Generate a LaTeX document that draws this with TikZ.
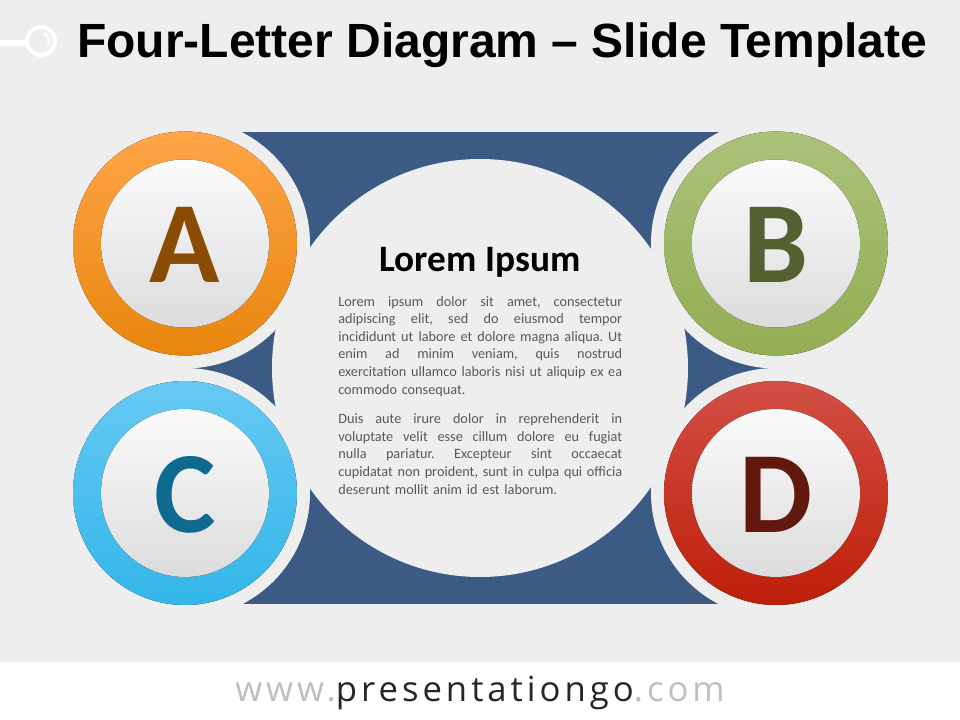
\documentclass[tikz,border=0pt]{standalone}
\usepackage{fontspec}
\setmainfont{Carlito}
\newfontfamily\titlefont{Liberation Sans}
\newfontfamily\webfont[LetterSpace=11.5]{Open Sans}
\definecolor{slidebg}{HTML}{EFEEEF}
\definecolor{navyblock}{HTML}{3B5B84}
\definecolor{textgrey}{HTML}{595959}
\definecolor{discTop}{HTML}{FBFBFB}
\definecolor{discBottom}{HTML}{DCDCDC}
\definecolor{orangeTop}{HTML}{FFA448}
\definecolor{orangeBottom}{HTML}{E8860C}
\definecolor{greenTop}{HTML}{ABC27A}
\definecolor{greenBottom}{HTML}{93AE53}
\definecolor{cyanTop}{HTML}{66C9F3}
\definecolor{cyanBottom}{HTML}{33B6E9}
\definecolor{redTop}{HTML}{D24F45}
\definecolor{redBottom}{HTML}{BE1E08}
\definecolor{letterA}{HTML}{8A4B02}
\definecolor{letterB}{HTML}{556130}
\definecolor{letterC}{HTML}{0E6A8E}
\definecolor{letterD}{HTML}{62180E}
\definecolor{webgrey}{HTML}{BFBFBF}
\definecolor{webdark}{HTML}{262626}
\newcommand{\jline}[1]{\makebox[213pt][s]{\frenchspacing\spaceskip=0.2em plus 1fil\relax #1}\\}

\begin{document}
\begin{tikzpicture}[x=0.75pt,y=0.75pt]
\tikzstyle{every node}+=[inner sep=0pt]
\tikzstyle{letter}=[anchor=base, font=\fontsize{87}{87}\selectfont\bfseries]
\tikzstyle{inner disc}=[top color=discTop, bottom color=discBottom]
\useasboundingbox (0,0) rectangle (960,-720);
\fill [slidebg] (0,0) rectangle (960,-662);
\fill [white] (0,-662) rectangle (960,-720);
\coordinate (hook) at (41,-41);
\draw [white, line width=4.5, line cap=round] (0,-43) -- (26,-43);
\draw [white, line width=3] (hook) circle (14);
\draw [white, line width=2] (hook) ++(70:8) arc (70:-30:8);
\node [anchor=base west, font=\titlefont\fontsize{36}{36}\selectfont\bfseries] (title) at (77,-57.3) {Four-Letter Diagram – Slide Template};
\coordinate (A) at (185,-243.5);
\coordinate (B) at (776,-243.5);
\coordinate (C) at (185,-493);
\coordinate (D) at (776,-493);
\coordinate (mid) at (480,-368);
\fill [navyblock] (185,-132) rectangle (776,-603.5);
\foreach \c in {A,B,C,D}
  \fill [slidebg] (\c) circle (125);
\fill [slidebg] (mid) ellipse (208 and 209);
\fill [top color=orangeTop, bottom color=orangeBottom] (A) circle (112);
\fill [inner disc] (A) circle (84);
\fill [top color=greenTop, bottom color=greenBottom] (B) circle (112);
\fill [inner disc] (B) circle (84);
\fill [top color=cyanTop, bottom color=cyanBottom] (C) circle (112);
\fill [inner disc] (C) circle (84);
\fill [top color=redTop, bottom color=redBottom] (D) circle (112);
\fill [inner disc] (D) circle (84);
\node [letter, text=letterA] (lA) at (185,-283) {A};
\node [letter, text=letterB] (lB) at (776,-283) {B};
\node [letter, text=letterC] (lC) at (185,-532.5) {C};
\node [letter, text=letterD] (lD) at (776,-532.5) {D};
\node [anchor=base, font=\fontsize{28}{28}\selectfont\bfseries] (heading) at (480,-272) {Lorem Ipsum};
\node [anchor=north west, text width=213pt, align=left, text=textgrey, font=\fontsize{10.7}{13.2}\selectfont] (body) at (338,-296) {%
\jline{Lorem ipsum dolor sit amet, consectetur}
\jline{adipiscing elit, sed do eiusmod tempor}
\jline{incididunt ut labore et dolore magna aliqua. Ut}
\jline{enim ad minim veniam, quis nostrud}
\jline{exercitation ullamco laboris nisi ut aliquip ex ea}
commodo consequat.\\[9pt]
\jline{Duis aute irure dolor in reprehenderit in}
\jline{voluptate velit esse cillum dolore eu fugiat}
\jline{nulla pariatur. Excepteur sint occaecat}
\jline{cupidatat non proident, sunt in culpa qui officia}
deserunt mollit anim id est laborum.};
\node [anchor=base, font=\webfont\fontsize{26}{26}\selectfont] (web) at (480,-701.7) {\textcolor{webgrey}{www.}\textcolor{webdark}{presentationgo}\textcolor{webgrey}{.com}};
\end{tikzpicture}
\end{document}
